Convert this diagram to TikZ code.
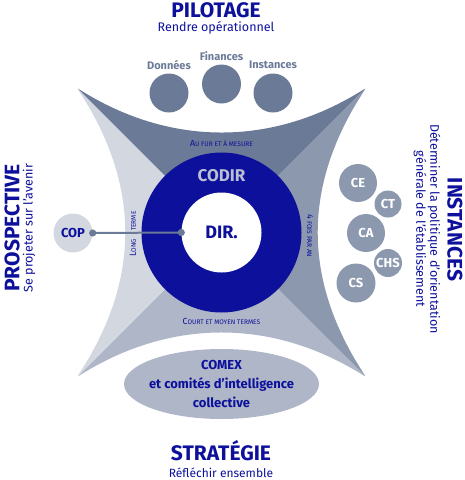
\documentclass[tikz,border=0pt]{standalone}
\usepackage{fontspec}
\setmainfont{Fira Sans}
\usepackage{tikz}
\usetikzlibrary{positioning}
\usetikzlibrary{arrows.meta}
\usetikzlibrary{shapes.geometric}

\definecolor{navy}{RGB}{13,16,155}
\definecolor{slate_a}{RGB}{107,122,150}
\definecolor{slate_b}{RGB}{139,152,174}
\definecolor{slate_c}{RGB}{174,182,199}
\definecolor{slate_d}{RGB}{210,215,224}
\definecolor{codir_gray}{RGB}{186,191,212}

% fake small capitals
\newcommand{\smcap}[2]{{\fontsize{8.8}{9}\selectfont #1}{\fontsize{6.6}{7}\selectfont #2}}

\begin{document}
\begin{tikzpicture}[x=1pt, y=-1pt,
    title_node/.style={text=navy, font=\fontsize{21}{22}\selectfont\bfseries, inner sep=0},
    sub_node/.style={text=navy, font=\fontsize{12.5}{13}\selectfont, inner sep=0, align=center},
    term_node/.style={text=navy, inner sep=0},
    top_circle/.style={circle, fill=slate_a, minimum size=39pt, inner sep=0},
    top_label/.style={text=slate_a, font=\fontsize{11}{12}\selectfont\bfseries, inner sep=0},
    body_circle/.style={circle, fill=slate_b, text=white, font=\fontsize{13}{14}\selectfont\bfseries, inner sep=0}
]

\useasboundingbox (0,0) rectangle (465,480);

% corners of the star
\coordinate (o) at (221.5,232.5);
\coordinate (tl) at (77,88);
\coordinate (tr) at (366,88);
\coordinate (br) at (366,377);
\coordinate (bl) at (77,377);

% four quadrants
\fill[slate_a, rounded corners=2pt] (o) -- (tl) .. controls (170,147) and (273,147) .. (tr) -- cycle;
\fill[slate_b, rounded corners=2pt] (o) -- (tr) .. controls (302,185) and (302,280) .. (br) -- cycle;
\fill[slate_c, rounded corners=2pt] (o) -- (br) .. controls (273,318) and (170,318) .. (bl) -- cycle;
\fill[slate_d, rounded corners=2pt] (o) -- (bl) .. controls (141,280) and (141,185) .. (tl) -- cycle;

% centre rings
\node[circle, fill=navy, minimum size=160pt, inner sep=0] (codir) at (o) {};
\node[circle, fill=white, minimum size=80pt, inner sep=0, text=navy,
      font=\fontsize{18}{19}\selectfont\bfseries] (dir) at (o) {DIR.};
\node[text=codir_gray, font=\fontsize{17}{18}\selectfont\bfseries, inner sep=0] (codir_label) at (221.5,176) {CODIR};

% rhythm labels
\node[term_node] (rhythm_top) at (221.5,144) {\smcap{A}{U FUR ET À MESURE}};
\node[term_node] (rhythm_bottom) at (221.5,321) {\smcap{C}{OURT ET MOYEN TERMES}};
\node[term_node, rotate=90] (rhythm_left) at (133,234) {\smcap{L}{ONG\hspace{8pt}TERME}};
\node[term_node, rotate=-90] (rhythm_right) at (310,236) {\smcap{4}{ FOIS PAR AN}};

% pilotage
\node[title_node] (pilotage) at (216,10) {PILOTAGE};
\node[sub_node] (pilotage_sub) at (216,28) {Rendre opérationnel};
\node[top_circle] (donnees) at (169,93) {};
\node[top_circle] (finances) at (221.5,84) {};
\node[top_circle] (instances_c) at (273,93) {};
\node[top_label] at (169,65) {Données};
\node[top_label] at (221.5,56) {Finances};
\node[top_label] at (273,65) {Instances};

% prospective
\node[title_node, rotate=90] (prospective) at (12,228) {PROSPECTIVE};
\node[sub_node, rotate=90] (prospective_sub) at (29,228) {Se projeter sur l'avenir};
\node[circle, fill=slate_d, minimum size=39pt, inner sep=0, text=navy,
      font=\fontsize{13}{14}\selectfont\bfseries] (cop) at (73,233) {COP};
\draw[slate_a, line width=2pt, {Circle[length=7pt]}-{Circle[length=7pt]},
      shorten <=-3.5pt, shorten >=-3.5pt] (cop.east) -- (dir.west);

% instances
\node[title_node, rotate=-90] (instances) at (455,229.5) {INSTANCES};
\node[sub_node, rotate=-90] (instances_sub) at (427,229) {Déterminer la politique d'orientation\\[1pt]générale de l'établissement};
\node[body_circle, minimum size=38pt] (ce) at (358,183) {CE};
\node[body_circle, minimum size=27pt] (ct) at (388,204) {CT};
\node[body_circle, minimum size=38pt] (ca) at (366,233) {CA};
\node[body_circle, minimum size=28pt] (chs) at (388,263) {CHS};
\node[body_circle, minimum size=39pt] (cs) at (356,283) {CS};

% strategie
\node[ellipse, fill=slate_c, minimum width=195pt, minimum height=70pt, inner sep=0] (comex) at (221.5,384) {};
\node[text=navy, font=\fontsize{13}{19}\selectfont\bfseries, align=center, inner sep=0] (comex_label) at (221.5,384)
    {COMEX\\et comités d'intelligence\\collective};
\node[title_node] (strategie) at (221,451) {STRATÉGIE};
\node[sub_node, font=\fontsize{12}{13}\selectfont] (strategie_sub) at (221,473) {Réfléchir ensemble};

\end{tikzpicture}
\end{document}
